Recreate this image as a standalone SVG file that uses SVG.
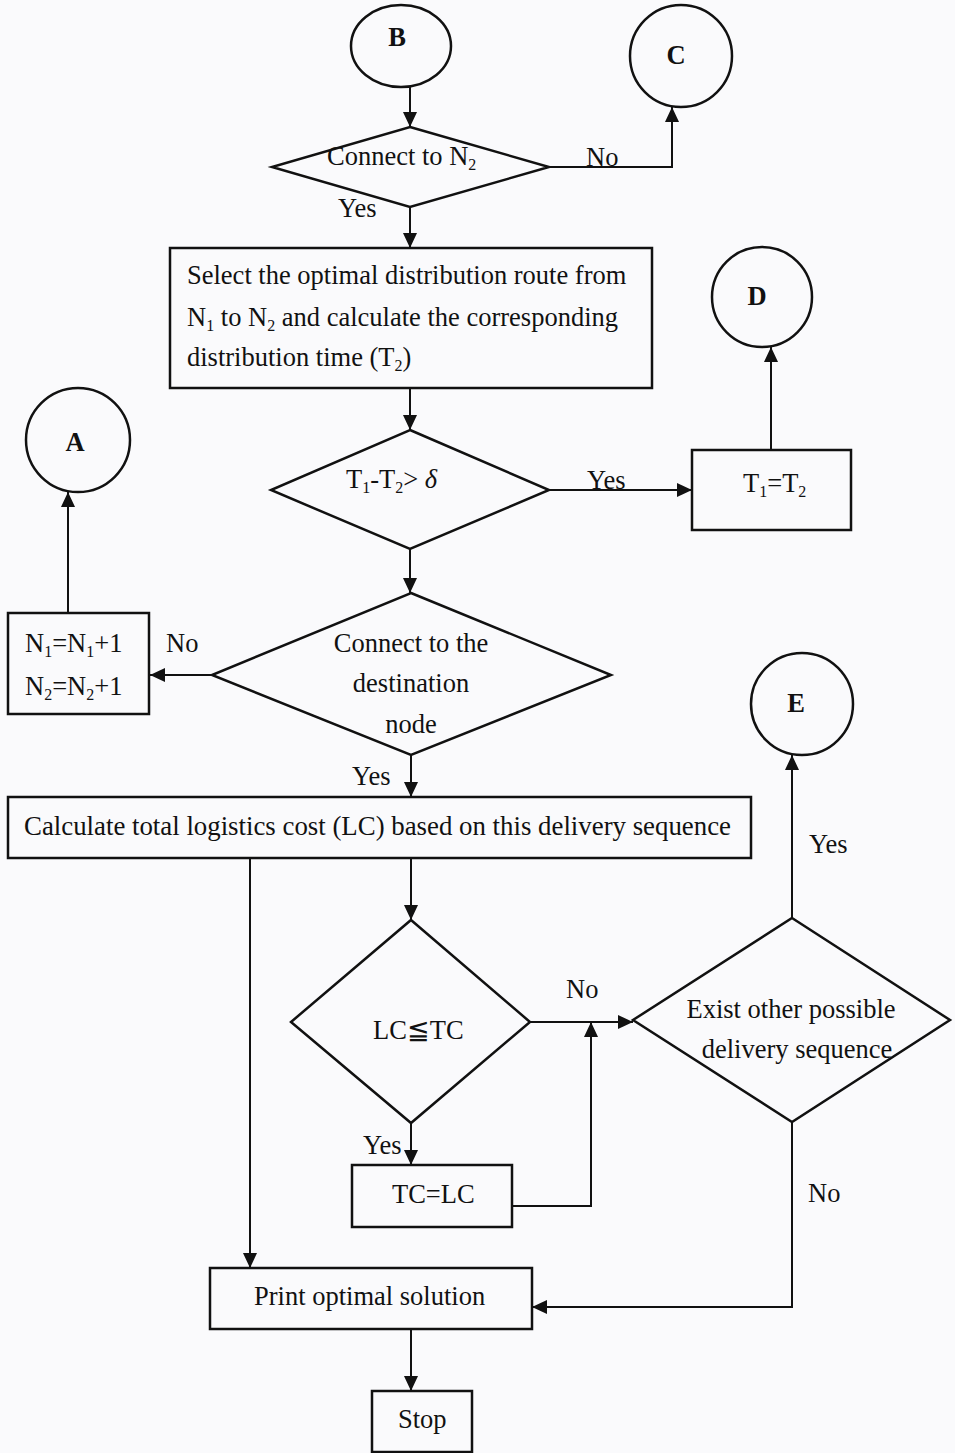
<svg xmlns="http://www.w3.org/2000/svg" width="955" height="1453" viewBox="0 0 955 1453">
<defs>
<marker id="ah" markerUnits="userSpaceOnUse" markerWidth="16" markerHeight="14" refX="15" refY="7" orient="auto">
<path d="M0,0 L15,7 L0,14 z" fill="#111"/>
</marker>
<style>
.s{fill:none;stroke:#111;stroke-width:2.5}
.c{fill:none;stroke:#111;stroke-width:2}
.t{font-family:"Liberation Serif","Times New Roman",serif;font-size:26.5px;fill:#111}
.m{text-anchor:middle}
.b{font-weight:bold}
.sub{font-size:16px}
</style>
</defs>
<rect width="955" height="1453" fill="#fafafc"/>

<g id="nodeB"><ellipse class="s" cx="401" cy="46" rx="50" ry="41"/><text class="t m b" x="397" y="46">B</text></g>
<g id="nodeC"><ellipse class="s" cx="681" cy="56" rx="51" ry="51"/><text class="t m b" x="676" y="64">C</text></g>
<g id="nodeD"><ellipse class="s" cx="762" cy="297" rx="50" ry="50"/><text class="t m b" x="757" y="305">D</text></g>
<g id="nodeA"><ellipse class="s" cx="78" cy="440" rx="52" ry="52"/><text class="t m b" x="75" y="451">A</text></g>
<g id="nodeE"><ellipse class="s" cx="802" cy="704" rx="51" ry="51"/><text class="t m b" x="796" y="712">E</text></g>

<g id="connectN2"><polygon class="s" points="410,127 549,167 410,207 272,167"/>
<text class="t" x="327" y="165">Connect to N<tspan class="sub" dy="5">2</tspan></text></g>

<g id="selectRoute"><rect class="s" x="170" y="248" width="482" height="140"/>
<text class="t" x="187" y="284">Select the optimal distribution route from</text>
<text class="t" x="187" y="326">N<tspan class="sub" dy="5">1</tspan><tspan dy="-5"> to N</tspan><tspan class="sub" dy="5">2</tspan><tspan dy="-5"> and calculate the corresponding</tspan></text>
<text class="t" x="187" y="366">distribution time (T<tspan class="sub" dy="5">2</tspan><tspan dy="-5">)</tspan></text></g>

<g id="checkDelta"><polygon class="s" points="410,430 549,490 410,549 271,490"/>
<text class="t" x="346" y="488">T<tspan class="sub" dy="5">1</tspan><tspan dy="-5">-T</tspan><tspan class="sub" dy="5">2</tspan><tspan dy="-5">&gt; </tspan><tspan font-style="italic">δ</tspan></text></g>

<g id="setT1"><rect class="s" x="692" y="450" width="159" height="80"/>
<text class="t" x="743" y="492">T<tspan class="sub" dy="5">1</tspan><tspan dy="-5">=T</tspan><tspan class="sub" dy="5">2</tspan></text></g>

<g id="connectDest"><polygon class="s" points="411,593 611,675 411,755 212,675"/>
<text class="t m" x="411" y="652">Connect to the</text>
<text class="t m" x="411" y="692">destination</text>
<text class="t m" x="411" y="733">node</text></g>

<g id="incN"><rect class="s" x="8" y="613" width="141" height="101"/>
<text class="t" x="25" y="652">N<tspan class="sub" dy="5">1</tspan><tspan dy="-5">=N</tspan><tspan class="sub" dy="5">1</tspan><tspan dy="-5">+1</tspan></text>
<text class="t" x="25" y="695">N<tspan class="sub" dy="5">2</tspan><tspan dy="-5">=N</tspan><tspan class="sub" dy="5">2</tspan><tspan dy="-5">+1</tspan></text></g>

<g id="calcLC"><rect class="s" x="8" y="797" width="743" height="61"/>
<text class="t" x="24" y="835" textLength="707" lengthAdjust="spacingAndGlyphs">Calculate total logistics cost (LC) based on this delivery sequence</text></g>

<g id="compare"><polygon class="s" points="411,920 530,1022 411,1123 291,1022"/>
<text class="t" x="373" y="1039">LC≦TC</text></g>

<g id="existOther"><polygon class="s" points="792,918 950,1020 792,1122 633,1020"/>
<text class="t m" x="791" y="1018">Exist other possible</text>
<text class="t m" x="797" y="1058">delivery sequence</text></g>

<g id="setTC"><rect class="s" x="352" y="1165" width="160" height="62"/>
<text class="t" x="392" y="1203">TC=LC</text></g>

<g id="printSol"><rect class="s" x="210" y="1268" width="322" height="61"/>
<text class="t" x="254" y="1305">Print optimal solution</text></g>

<g id="stop"><rect class="s" x="372" y="1391" width="100" height="61"/>
<text class="t" x="398" y="1428">Stop</text></g>

<g id="connectors">
<path class="c" d="M410,87 V127" marker-end="url(#ah)"/>
<path class="c" d="M549,167 H672 V107" marker-end="url(#ah)"/>
<path class="c" d="M410,207 V248" marker-end="url(#ah)"/>
<path class="c" d="M410,388 V430" marker-end="url(#ah)"/>
<path class="c" d="M549,490 H692" marker-end="url(#ah)"/>
<path class="c" d="M771,450 V347" marker-end="url(#ah)"/>
<path class="c" d="M410,549 V593" marker-end="url(#ah)"/>
<path class="c" d="M212,675 H150" marker-end="url(#ah)"/>
<path class="c" d="M68,613 V492" marker-end="url(#ah)"/>
<path class="c" d="M411,755 V797" marker-end="url(#ah)"/>
<path class="c" d="M411,858 V920" marker-end="url(#ah)"/>
<path class="c" d="M250,858 V1268" marker-end="url(#ah)"/>
<path class="c" d="M530,1022 H633" marker-end="url(#ah)"/>
<path class="c" d="M411,1123 V1165" marker-end="url(#ah)"/>
<path class="c" d="M512,1206 H591 V1022" marker-end="url(#ah)"/>
<path class="c" d="M792,918 V755" marker-end="url(#ah)"/>
<path class="c" d="M792,1122 V1307 H532" marker-end="url(#ah)"/>
<path class="c" d="M411,1329 V1391" marker-end="url(#ah)"/>
<text class="t" x="586" y="166">No</text>
<text class="t" x="338" y="217">Yes</text>
<text class="t" x="587" y="489">Yes</text>
<text class="t" x="166" y="652">No</text>
<text class="t" x="352" y="785">Yes</text>
<text class="t" x="809" y="853">Yes</text>
<text class="t" x="566" y="998">No</text>
<text class="t" x="363" y="1154">Yes</text>
<text class="t" x="808" y="1202">No</text>
</g>
</svg>
